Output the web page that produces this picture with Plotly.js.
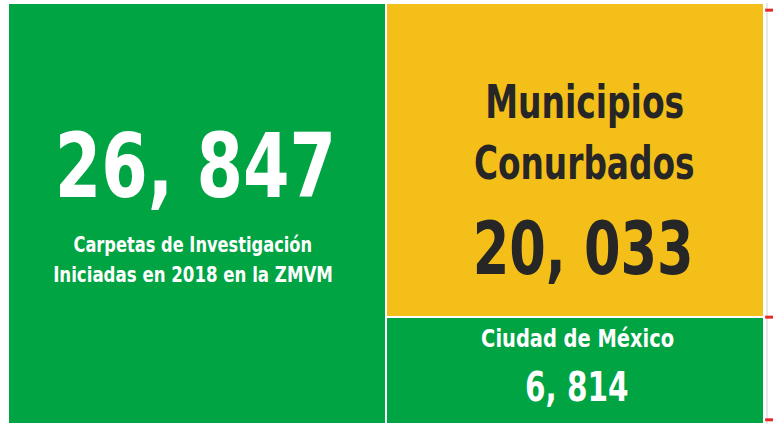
<!DOCTYPE html>
<html>
<head>
<meta charset="utf-8">
<script src="https://cdn.plot.ly/plotly-3.0.1.min.js"></script>
<style>
  html, body { margin: 0; padding: 0; background: #ffffff; }
  #chart { width: 773px; height: 424px; }
</style>
</head>
<body>
<div id="chart"></div>
<script>
// ---- data ----
const categories = ['ZMVM', 'Desglose'];
const totalLabel = ['Carpetas de Investigación', 'Iniciadas en 2018 en la ZMVM'];
const totalValue = [26847];
const muniLabel = ['Municipios', 'Conurbados'];
const muniValue = [20033];
const cdmxLabel = ['Ciudad de México'];
const cdmxValue = [6814];

// ---- styles ----
const GREEN = '#00A443';
const YELLOW = '#F4BF18';
const DARK = '#262626';
const FONT = '"Liberation Sans Narrow", "DejaVu Sans Condensed", "Arial Narrow", sans-serif';

function fmt(n) { return n.toLocaleString('en-US').replace(/,/g, ', '); }

const barLine = { color: '#ffffff', width: 2 };

const traces = [
  { type: 'bar', name: 'Total', x: [categories[0]], y: totalValue,
    marker: { color: GREEN, line: barLine }, hoverinfo: 'skip' },
  { type: 'bar', name: cdmxLabel[0], x: [categories[1]], y: cdmxValue,
    marker: { color: GREEN, line: barLine }, hoverinfo: 'skip' },
  { type: 'bar', name: muniLabel.join(' '), x: [categories[1]], y: muniValue,
    marker: { color: YELLOW, line: barLine }, hoverinfo: 'skip' }
];

// horizontal condensing factor per annotation (style only)
const squeeze = [];
function ann(text, x, y, size, color, xshift, sx) {
  squeeze.push(sx);
  return { text: text, xref: 'x', yref: 'paper', x: x, y: y,
    xanchor: 'center', yanchor: 'middle', showarrow: false, xshift: xshift || 0,
    font: { family: FONT, size: size, color: color, weight: 'bold' } };
}

const annotations = [
  ann(fmt(totalValue[0]), categories[0], 0.614, 89, '#ffffff', -2, 0.835),
  ann(totalLabel[0], categories[0], 0.424, 21, '#ffffff', -4, 0.86),
  ann(totalLabel[1], categories[0], 0.353, 21, '#ffffff', -4, 0.88),
  ann(muniLabel[0], categories[1], 0.767, 47, DARK, 9, 0.78),
  ann(muniLabel[1], categories[1], 0.620, 47, DARK, 9, 0.776),
  ann(fmt(muniValue[0]), categories[1], 0.417, 73, DARK, 8, 0.80),
  ann(cdmxLabel[0], categories[1], 0.204, 25, '#ffffff', 2, 0.865),
  ann(fmt(cdmxValue[0]), categories[1], 0.088, 41, '#ffffff', 2, 0.80)
];

const RED = '#E52A2A';
const shapes = [
  { type: 'line', xref: 'paper', yref: 'paper', x0: 1.004, x1: 1.004, y0: 0, y1: 1,
    line: { color: '#e8e8e8', width: 2 } },
  { type: 'line', xref: 'paper', yref: 'paper', x0: 1.0015, x1: 1.012, y0: 0.983, y1: 0.983,
    line: { color: RED, width: 3 } },
  { type: 'line', xref: 'paper', yref: 'y', x0: 1.0015, x1: 1.012, y0: cdmxValue[0], y1: cdmxValue[0],
    line: { color: RED, width: 3 } },
  { type: 'line', xref: 'paper', yref: 'paper', x0: 1.0015, x1: 1.012, y0: 0.01, y1: 0.01,
    line: { color: RED, width: 3 } }
];

const layout = {
  width: 773, height: 424,
  margin: { l: 8, r: 9, t: 3, b: 0, pad: 0 },
  paper_bgcolor: '#ffffff', plot_bgcolor: '#ffffff',
  barmode: 'stack', bargap: 0,
  showlegend: false,
  xaxis: { type: 'category', range: [-0.5, 1.5], visible: false, fixedrange: true },
  yaxis: { range: [0, totalValue[0]], visible: false, fixedrange: true },
  annotations: annotations,
  shapes: shapes
};

Plotly.newPlot('chart', traces, layout, { displayModeBar: false, staticPlot: true }).then(function (gd) {
  // condense the annotation text horizontally around its own centre
  gd.querySelectorAll('g.annotation').forEach(function (g) {
    const i = +g.getAttribute('data-index');
    const t = g.querySelector('text.annotation-text');
    if (!t || !squeeze[i]) return;
    const bb = t.getBBox();
    const cx = bb.x + bb.width / 2;
    t.setAttribute('transform', 'translate(' + cx + ' 0) scale(' + squeeze[i] + ' 1) translate(' + (-cx) + ' 0)');
  });
});
</script>
</body>
</html>
